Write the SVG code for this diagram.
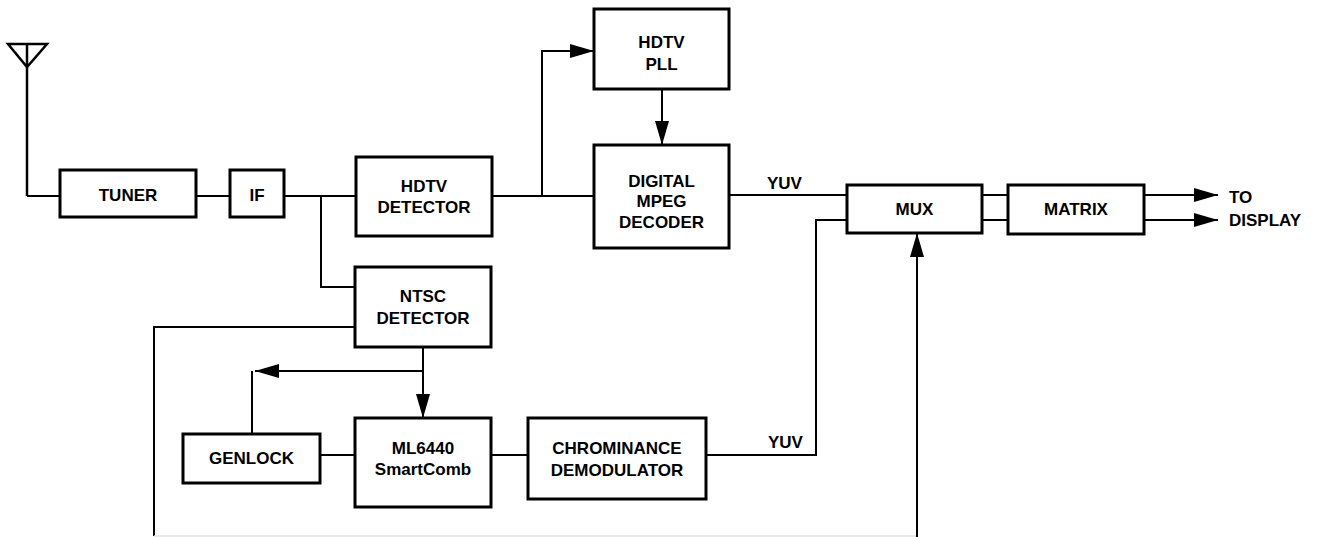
<svg xmlns="http://www.w3.org/2000/svg" width="1317" height="537" viewBox="0 0 1317 537">
<style>
.box{fill:#fff;stroke:#000;stroke-width:3}
.ln{fill:none;stroke:#000;stroke-width:2}
text{font-family:"Liberation Sans",Arial,sans-serif;font-weight:bold;font-size:17px;fill:#000}
.c{text-anchor:middle}
</style>
<defs>
<marker id="ah" viewBox="0 0 24 14" refX="24" refY="7" markerWidth="24" markerHeight="14" markerUnits="userSpaceOnUse" orient="auto">
<path d="M0,0 L24,7 L0,14 Z" fill="#000"/>
</marker>
</defs>
<rect width="1317" height="537" fill="#fff"/>
<g id="connectors">
<path class="ln" d="M27,196 H60"/>
<path class="ln" d="M196,196 H230"/>
<path class="ln" d="M284,196 H356"/>
<path class="ln" d="M321,196 V287 H355"/>
<path class="ln" d="M492,196 H594"/>
<path class="ln" d="M542,196 V51 H594" marker-end="url(#ah)"/>
<path class="ln" d="M662,89 V145" marker-end="url(#ah)"/>
<path class="ln" d="M729,195 H847"/>
<path class="ln" d="M982,195 H1008"/>
<path class="ln" d="M982,220 H1008"/>
<path class="ln" d="M1144,195 H1218" marker-end="url(#ah)"/>
<path class="ln" d="M1144,220 H1218" marker-end="url(#ah)"/>
<path class="ln" d="M355,327 H154 V536"/>
<path d="M154,536 H917" fill="none" stroke="#e2e2e2" stroke-width="1.5"/>
<path class="ln" d="M917,537 V233" marker-end="url(#ah)"/>
<path class="ln" d="M423,347 V418" marker-end="url(#ah)"/>
<path class="ln" d="M423,371 H255" marker-end="url(#ah)"/>
<path class="ln" d="M252,371 V434"/>
<path class="ln" d="M320,455 H355"/>
<path class="ln" d="M491,455 H528"/>
<path class="ln" d="M706,455 H816 V220 H847"/>
</g>
<g id="antenna">
<path d="M8,44 H47 L27,67 Z" fill="none" stroke="#000" stroke-width="2.5" stroke-linejoin="miter"/>
<path d="M27,44 V196" fill="none" stroke="#000" stroke-width="2.5"/>
</g>
<g id="tuner"><rect class="box" x="60" y="170" width="136" height="47"/><text class="c" x="128" y="201">TUNER</text></g>
<g id="if"><rect class="box" x="230" y="170" width="54" height="47"/><text class="c" x="257" y="201">IF</text></g>
<g id="hdtv-detector"><rect class="box" x="356" y="157" width="136" height="79"/><text class="c" x="424" y="192">HDTV</text><text class="c" x="424" y="213">DETECTOR</text></g>
<g id="hdtv-pll"><rect class="box" x="594" y="9" width="135" height="80"/><text class="c" x="661.5" y="48">HDTV</text><text class="c" x="661.5" y="70">PLL</text></g>
<g id="mpeg-decoder"><rect class="box" x="594" y="145" width="135" height="103"/><text class="c" x="661.5" y="187">DIGITAL</text><text class="c" x="661.5" y="207">MPEG</text><text class="c" x="661.5" y="228">DECODER</text></g>
<g id="mux"><rect class="box" x="847" y="185" width="135" height="48"/><text class="c" x="914.5" y="215">MUX</text></g>
<g id="matrix"><rect class="box" x="1008" y="185" width="136" height="49"/><text class="c" x="1076" y="215">MATRIX</text></g>
<g id="ntsc-detector"><rect class="box" x="355" y="267" width="136" height="80"/><text class="c" x="423" y="302">NTSC</text><text class="c" x="423" y="324">DETECTOR</text></g>
<g id="genlock"><rect class="box" x="183" y="434" width="137" height="49"/><text class="c" x="251.5" y="464">GENLOCK</text></g>
<g id="smartcomb"><rect class="box" x="355" y="418" width="136" height="89"/><text class="c" x="423" y="454">ML6440</text><text class="c" x="423" y="475">SmartComb</text></g>
<g id="chroma-demod"><rect class="box" x="528" y="418" width="178" height="81"/><text class="c" x="617" y="454">CHROMINANCE</text><text class="c" x="617" y="476">DEMODULATOR</text></g>
<g id="labels">
<text x="767" y="189">YUV</text>
<text x="768" y="448">YUV</text>
<text x="1229" y="203">TO</text>
<text x="1229" y="226">DISPLAY</text>
</g>
</svg>
